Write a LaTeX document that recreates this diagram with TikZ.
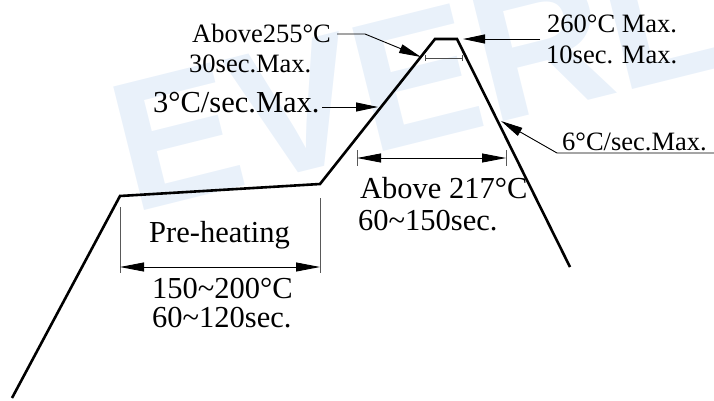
\documentclass[tikz,border=0pt]{standalone}
\usepackage{fontspec}
\setmainfont{Liberation Serif}
\newfontfamily\wmfont{Liberation Sans}
\usetikzlibrary{arrows.meta,calc}
\definecolor{wm}{RGB}{233,241,250}
\begin{document}
\begin{tikzpicture}[x=1pt,y=-1pt,
  profile/.style={line width=2.6pt, line join=miter},
  leader/.style={line width=0.9pt, -{Triangle[length=22pt,width=9pt]}},
  dimline/.style={line width=0.9pt, {Triangle[length=24pt,width=9pt]}-{Triangle[length=24pt,width=9pt]}},
  smalldim/.style={line width=0.8pt, gray!60!black},
  ext/.style={line width=0.7pt, gray!70!black},
  big/.style={font=\fontsize{30.5}{33}\selectfont, anchor=base west, inner sep=0pt},
  small/.style={font=\fontsize{26.5}{29}\selectfont, anchor=base west, inner sep=0pt},
  wmark/.style={anchor=base west, rotate=14, text=wm, inner sep=0pt,
    font=\wmfont\bfseries\fontsize{185}{185}\selectfont}]
\useasboundingbox (0,0) rectangle (714,400);
\begin{scope}
  \clip (0,0) rectangle (714,400);
  \node[wmark] (wm) at (132,214) {EVERL};
\end{scope}

% profile
\coordinate (p0) at (12,398);
\coordinate (p1) at (120,196);
\coordinate (p2) at (320,184);
\coordinate (p3) at (435,39);
\coordinate (p4) at (457,39);
\coordinate (p5) at (570,267);
\draw[profile] (p0) -- (p1) -- (p2) -- (p3) -- (p4) -- (p5);

% pre-heating dimension
\coordinate (e1a) at (120,207); \coordinate (e1b) at (120,273);
\coordinate (e2a) at (320,198); \coordinate (e2b) at (320,273);
\draw[ext] (e1a) -- (e1b);
\draw[ext] (e2a) -- (e2b);
\coordinate (ph1) at (120,267); \coordinate (ph2) at (320,267);
\draw[dimline] (ph1) -- (ph2);

% above 217 dimension
\coordinate (k1a) at (357,150); \coordinate (k1b) at (357,166);
\coordinate (k2a) at (506,150); \coordinate (k2b) at (506,166);
\draw[ext] (k1a) -- (k1b);
\draw[ext] (k2a) -- (k2b);
\coordinate (d1) at (357,158); \coordinate (d2) at (506,158);
\draw[dimline] (d1) -- (d2);

% 30 sec small dimension
\coordinate (s1) at (425,58); \coordinate (s2) at (462,58);
\draw[smalldim] (s1) -- (s2);
\draw[smalldim] ($(s1)+(0,-3)$) -- ($(s1)+(0,3)$);
\draw[smalldim] ($(s2)+(0,-3)$) -- ($(s2)+(0,3)$);

% texts
\node[small] (t255) at (192,42) {Above255°C};
\node[small] (t30) at (189,72) {30sec.Max.};
\node[big] (t3) at (153,112) {3°C/sec.Max.};
\node[small] (t260) at (547,32) {260°C Max.};
\node[small] (t10) at (546,63) {10sec. Max.};
\node[small] (t6) at (562,150) {6°C/sec.Max.};
\node[big] (t217) at (360,198) {Above 217°C};
\node[big] (t60a) at (358,230) {60\textasciitilde150sec.};
\node[big] (tph) at (149,242) {Pre-heating};
\node[big] (t150) at (152,298) {150\textasciitilde200°C};
\node[big] (t60b) at (152,327) {60\textasciitilde120sec.};

% leaders
\coordinate (a255) at (337,34); \coordinate (b255) at (365,34); \coordinate (c255) at (421,57);
\draw[leader] (a255) -- (b255) -- (c255);
\coordinate (a3) at (322,107); \coordinate (c3) at (378,107);
\draw[leader] (a3) -- (c3);
\coordinate (a260) at (540,39); \coordinate (c260) at (463,39);
\draw[leader] (a260) -- (c260);
\coordinate (a6) at (714,153); \coordinate (b6) at (557,153); \coordinate (c6) at (501,121);
\draw[leader] (a6) -- (b6) -- (c6);
\end{tikzpicture}
\end{document}
